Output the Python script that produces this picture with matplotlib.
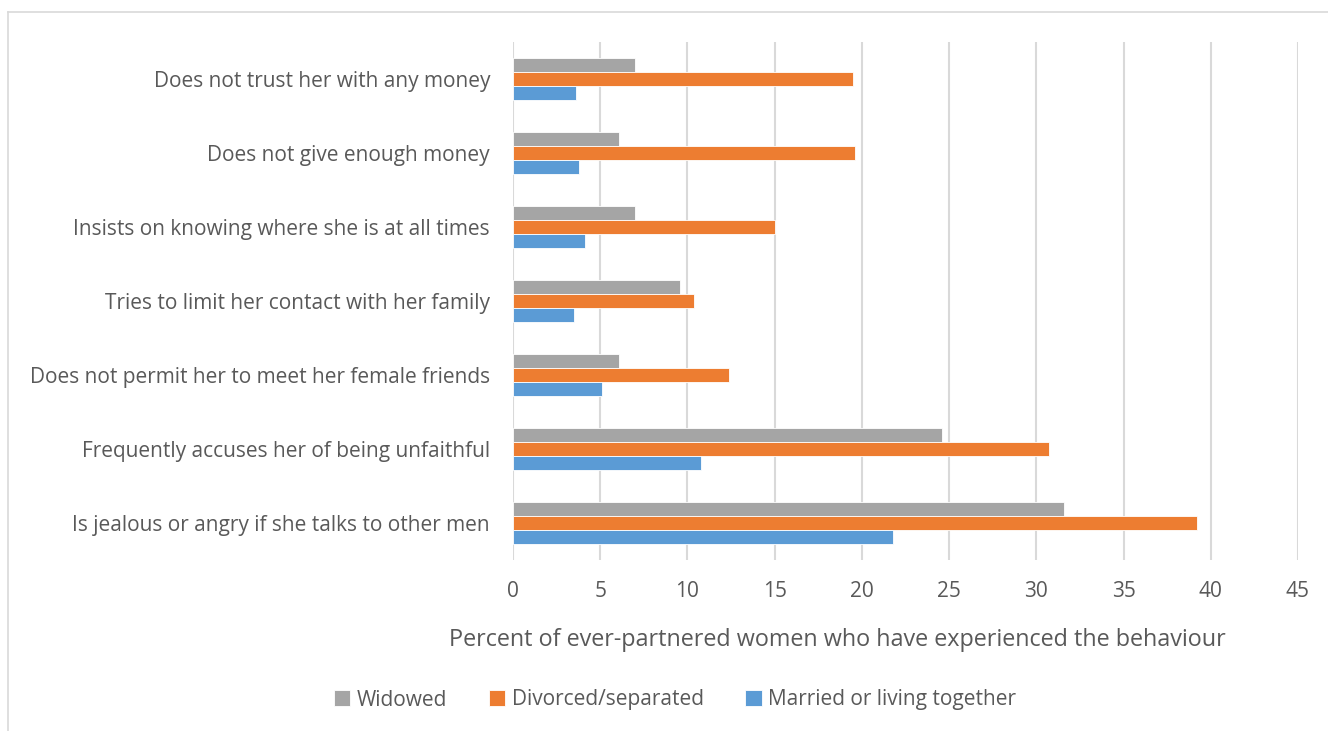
import matplotlib
matplotlib.use("Agg")
import matplotlib.pyplot as plt
import numpy as np
from matplotlib.lines import Line2D

categories = [
    "Is jealous or angry if she talks to other men",
    "Frequently accuses her of being unfaithful",
    "Does not permit her to meet her female friends",
    "Tries to limit her contact with her family",
    "Insists on knowing where she is at all times",
    "Does not give enough money",
    "Does not trust her with any money",
]
married = [21.8, 10.8, 5.1, 3.5, 4.1, 3.8, 3.6]
divorced = [39.2, 30.7, 12.4, 10.4, 15.0, 19.6, 19.5]
widowed = [31.6, 24.6, 6.1, 9.6, 7.0, 6.1, 7.0]
series_names = ["Widowed", "Divorced/separated", "Married or living together"]
x_ticks = [0, 5, 10, 15, 20, 25, 30, 35, 40, 45]
xlabel = "Percent of ever-partnered women who have experienced the behaviour"

plt.rcParams['font.family'] = ['Open Sans', 'DejaVu Sans']
text_color = "#595959"

W, H = 1328, 731
fig = plt.figure(figsize=(W/100, H/100), dpi=100)
ax = fig.add_axes([513/W, 1 - 560/H, 785/W, 518/H])

y = np.arange(len(categories))
h = 0.19
ax.barh(y + h, widowed, height=h, color="#A5A5A5", edgecolor="white", linewidth=0.6, label=series_names[0], zorder=3)
ax.barh(y, divorced, height=h, color="#ED7D31", edgecolor="white", linewidth=0.6, label=series_names[1], zorder=3)
ax.barh(y - h, married, height=h, color="#5B9BD5", edgecolor="white", linewidth=0.6, label=series_names[2], zorder=3)

ax.set_xlim(0, 45)
ax.set_ylim(-0.5, len(categories) - 0.5)
ax.set_xticks(x_ticks)
ax.set_xticklabels([str(t) for t in x_ticks])
ax.set_yticks(y)
ax.set_yticklabels(categories)
ax.tick_params(axis='both', length=0, colors=text_color, labelsize=15)
ax.tick_params(axis='x', pad=15)
ax.tick_params(axis='y', pad=16.5)
ax.xaxis.grid(True, color="#D9D9D9", linewidth=1.5, zorder=0)
ax.set_axisbelow(True)
for s in ax.spines.values():
    s.set_visible(False)
ax.set_xlabel(xlabel, fontsize=16.8, color=text_color)
ax.xaxis.label.set_va('center')
ax.xaxis.set_label_coords((837 - 513) / 785, (560 - 640) / 518)

handles, labels = ax.get_legend_handles_labels()
leg = fig.legend(handles, labels, loc='center', bbox_to_anchor=(675/W, 1 - 700/H), ncol=3,
                 frameon=False, fontsize=15, handlelength=0.8, handleheight=0.8,
                 handletextpad=0.3, columnspacing=2.0)
for t in leg.get_texts():
    t.set_color(text_color)

# chart area border (top and left visible in the reference)
fig.add_artist(Line2D([8/W, 1.0], [1 - 12/H, 1 - 12/H], transform=fig.transFigure,
                      color="#D9D9D9", linewidth=1.2))
fig.add_artist(Line2D([8/W, 8/W], [0.0, 1 - 12/H], transform=fig.transFigure,
                      color="#D9D9D9", linewidth=1.2))

fig.savefig("out.png", dpi=100, facecolor="white")
